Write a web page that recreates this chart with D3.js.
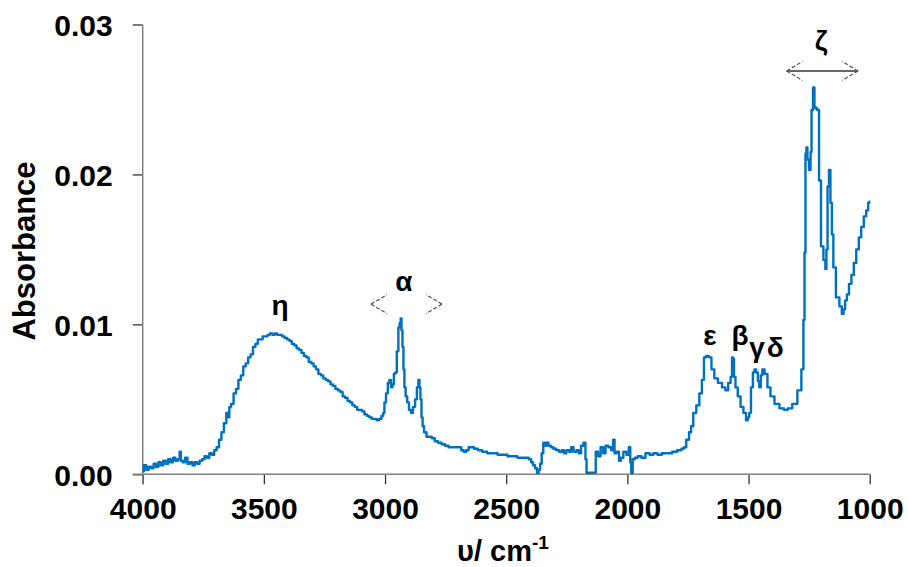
<!DOCTYPE html>
<html>
<head>
<meta charset="utf-8">
<script src="https://cdn.jsdelivr.net/npm/d3@7"></script>
<style>
  body { margin: 0; background: #fff; }
  text { font-family: "Liberation Sans", Arial, sans-serif; font-weight: bold; fill: #000; }
</style>
</head>
<body>
<div id="chart"></div>
<script>
var width = 908;
var height = 567;

// wavenumber (cm-1) and absorbance
var wavenumber = [4000, 3990, 3980, 3970, 3960, 3950, 3940, 3930, 3920, 3910, 3900, 3890, 3880, 3870, 3860, 3850, 3845, 3840, 3830, 3820, 3810, 3800, 3790, 3780, 3770, 3760, 3750, 3740, 3730, 3720, 3710, 3700, 3690, 3680, 3670, 3660, 3650, 3645, 3640, 3630, 3620, 3610, 3600, 3590, 3580, 3570, 3560, 3550, 3540, 3530, 3520, 3510, 3500, 3490, 3480, 3470, 3460, 3450, 3440, 3430, 3420, 3410, 3400, 3390, 3380, 3370, 3360, 3350, 3340, 3330, 3320, 3310, 3300, 3290, 3280, 3270, 3260, 3250, 3240, 3230, 3220, 3210, 3200, 3190, 3180, 3170, 3160, 3150, 3140, 3130, 3120, 3110, 3100, 3090, 3080, 3070, 3060, 3050, 3040, 3030, 3020, 3010, 3005, 3000, 2992, 2985, 2979, 2972, 2967, 2960, 2955, 2948, 2942, 2937, 2934, 2930, 2926, 2922, 2918, 2912, 2905, 2897, 2889, 2880, 2872, 2865, 2860, 2856, 2852, 2847, 2843, 2835, 2823, 2814, 2800, 2790, 2773, 2760, 2745, 2731, 2710, 2691, 2680, 2670, 2660, 2650, 2640, 2625, 2608, 2590, 2567, 2545, 2526, 2505, 2484, 2465, 2443, 2425, 2414, 2400, 2394, 2385, 2377, 2369, 2363, 2357, 2350, 2344, 2338, 2331, 2320, 2311, 2300, 2287, 2275, 2265, 2258, 2245, 2235, 2229, 2215, 2205, 2196, 2186, 2176, 2170, 2167, 2150, 2135, 2126, 2116, 2105, 2095, 2085, 2072, 2062, 2056, 2050, 2039, 2030, 2023, 2010, 1998, 1990, 1986, 1982, 1974, 1965, 1949, 1935, 1916, 1900, 1885, 1866, 1850, 1825, 1805, 1784, 1770, 1763, 1751, 1740, 1734, 1722, 1709, 1697, 1688, 1680, 1670, 1659, 1647, 1635, 1618, 1601, 1590, 1578, 1570, 1566, 1562, 1558, 1550, 1539, 1527, 1515, 1506, 1500, 1494, 1486, 1478, 1473, 1465, 1458, 1453, 1446, 1440, 1428, 1416, 1403, 1383, 1362, 1346, 1330, 1309, 1288, 1276, 1271, 1267, 1263, 1259, 1255, 1246, 1242, 1238, 1230, 1226, 1220, 1213, 1205, 1197, 1185, 1181, 1176, 1172, 1164, 1160, 1152, 1148, 1131, 1119, 1111, 1105, 1098, 1090, 1081, 1070, 1061, 1050, 1040, 1030, 1019, 1010, 1003, 1000];
var absorbance = [0.0002, 0.0006, 0.0003, 0.0005, 0.0004, 0.0007, 0.0005, 0.0008, 0.0006, 0.0009, 0.0007, 0.0010, 0.0008, 0.0011, 0.0009, 0.0010, 0.0015, 0.0009, 0.0008, 0.0011, 0.0007, 0.0008, 0.0006, 0.0008, 0.0007, 0.0009, 0.0010, 0.0012, 0.0011, 0.0014, 0.0013, 0.0016, 0.0018, 0.0023, 0.0028, 0.0034, 0.0041, 0.0038, 0.0045, 0.0047, 0.0054, 0.0057, 0.0063, 0.0066, 0.0072, 0.0074, 0.0078, 0.0080, 0.0085, 0.0087, 0.0090, 0.0090, 0.0092, 0.0092, 0.0093, 0.0094, 0.0093, 0.0094, 0.0093, 0.0093, 0.0092, 0.0091, 0.0090, 0.0089, 0.0087, 0.0086, 0.0084, 0.0083, 0.0081, 0.0079, 0.0078, 0.0075, 0.0074, 0.0072, 0.0070, 0.0067, 0.0066, 0.0064, 0.0063, 0.0062, 0.0060, 0.0059, 0.0057, 0.0056, 0.0055, 0.0052, 0.0051, 0.0049, 0.0048, 0.0046, 0.0045, 0.0043, 0.0043, 0.0042, 0.0040, 0.0039, 0.0038, 0.0037, 0.0037, 0.0036, 0.0037, 0.0039, 0.0041, 0.0048, 0.0054, 0.0061, 0.0063, 0.0058, 0.0060, 0.0067, 0.0068, 0.0082, 0.0098, 0.0101, 0.0104, 0.0096, 0.0085, 0.0070, 0.0058, 0.0052, 0.0048, 0.0043, 0.0041, 0.0045, 0.0050, 0.0058, 0.0063, 0.0058, 0.0050, 0.0038, 0.0032, 0.0028, 0.0025, 0.0025, 0.0024, 0.0022, 0.0021, 0.0020, 0.0019, 0.0018, 0.0018, 0.0018, 0.0016, 0.0015, 0.0016, 0.0018, 0.0018, 0.0017, 0.0016, 0.0015, 0.0014, 0.0014, 0.0013, 0.0013, 0.0012, 0.0012, 0.0011, 0.0011, 0.0011, 0.0010, 0.0008, 0.0006, 0.0004, 0.0001, 0.0003, 0.0007, 0.0014, 0.0021, 0.0019, 0.0021, 0.0019, 0.0018, 0.0017, 0.0016, 0.0015, 0.0016, 0.0014, 0.0016, 0.0015, 0.0018, 0.0015, 0.0016, 0.0014, 0.0019, 0.0021, 0.0010, 0.0001, 0.0001, 0.0001, 0.0015, 0.0012, 0.0018, 0.0014, 0.0019, 0.0018, 0.0016, 0.0023, 0.0014, 0.0015, 0.0009, 0.0011, 0.0015, 0.0013, 0.0018, 0.0008, 0.0001, 0.0010, 0.0011, 0.0012, 0.0011, 0.0014, 0.0013, 0.0014, 0.0013, 0.0014, 0.0014, 0.0015, 0.0016, 0.0017, 0.0018, 0.0023, 0.0028, 0.0032, 0.0041, 0.0046, 0.0054, 0.0063, 0.0078, 0.0079, 0.0078, 0.0070, 0.0064, 0.0061, 0.0058, 0.0056, 0.0061, 0.0065, 0.0078, 0.0077, 0.0065, 0.0058, 0.0052, 0.0045, 0.0041, 0.0036, 0.0038, 0.0041, 0.0058, 0.0068, 0.0070, 0.0068, 0.0062, 0.0058, 0.0066, 0.0070, 0.0067, 0.0058, 0.0052, 0.0047, 0.0044, 0.0043, 0.0044, 0.0047, 0.0056, 0.0070, 0.0103, 0.0148, 0.0214, 0.0218, 0.0210, 0.0203, 0.0215, 0.0243, 0.0258, 0.0245, 0.0244, 0.0243, 0.0196, 0.0152, 0.0143, 0.0137, 0.0150, 0.0192, 0.0203, 0.0181, 0.0160, 0.0138, 0.0118, 0.0112, 0.0107, 0.0110, 0.0116, 0.0120, 0.0127, 0.0133, 0.0141, 0.0150, 0.0158, 0.0165, 0.0172, 0.0176, 0.0181, 0.0182];

var xTicks = [4000, 3500, 3000, 2500, 2000, 1500, 1000];
var yTicks = [0, 0.01, 0.02, 0.03];

// band labels: text, wavenumber, absorbance of baseline
var bandText = ['η', 'α', 'ε', 'β', 'γ', 'δ', 'ζ'];
var bandX = [3433, 2922, 1659, 1535, 1465, 1390, 1200];
var bandY = [0.0106, 0.0122, 0.0086, 0.0086, 0.0078, 0.0078, 0.0283];

var margin = { left: 142.7, right: 869.7, top: 24.5, bottom: 474.3 };

var x = d3.scaleLinear().domain([4000, 1000]).range([margin.left, margin.right]);
var y = d3.scaleLinear().domain([0, 0.03]).range([margin.bottom, margin.top]);

var svg = d3.select('#chart')
  .append('svg')
  .attr('width', width)
  .attr('height', height);

// axes
var xAxis = svg.append('g')
  .attr('transform', 'translate(0,' + margin.bottom + ')')
  .call(d3.axisBottom(x).tickValues(xTicks).tickSize(10).tickSizeOuter(0).tickPadding(13)
    .tickFormat(d3.format('d')));
var yAxis = svg.append('g')
  .attr('transform', 'translate(' + margin.left + ',0)')
  .call(d3.axisLeft(y).tickValues(yTicks).tickSize(10).tickSizeOuter(0).tickPadding(20)
    .tickFormat(d3.format('.2f')));

[xAxis, yAxis].forEach(function(g) {
  g.select('.domain').remove();
  g.selectAll('.tick line').attr('stroke', '#333').attr('stroke-width', 1.3);
  g.selectAll('.tick text')
    .style('font-size', '30px')
    .style('font-family', '"Liberation Sans", Arial, sans-serif')
    .style('font-weight', 'bold')
    .attr('fill', '#000');
});
yAxis.selectAll('.tick text').attr('dy', '0.36em');

// axis lines, extended past the crossing like the original
svg.append('line')
  .attr('x1', margin.left - 10).attr('x2', margin.right)
  .attr('y1', margin.bottom).attr('y2', margin.bottom)
  .attr('stroke', '#808080').attr('stroke-width', 1.5);
svg.append('line')
  .attr('x1', margin.left).attr('x2', margin.left)
  .attr('y1', margin.top).attr('y2', margin.bottom + 10)
  .attr('stroke', '#808080').attr('stroke-width', 1.5);

// spectrum
var points = wavenumber.map(function(w, i) { return [w, absorbance[i]]; });
var line = d3.line()
  .curve(d3.curveStep)
  .x(function(d) { return x(d[0]); })
  .y(function(d) { return y(d[1]); });

svg.append('path')
  .datum(points)
  .attr('d', line)
  .attr('fill', 'none')
  .attr('stroke', '#0070C0')
  .attr('stroke-width', 2.4)
  .attr('stroke-linejoin', 'round');

// band labels
svg.selectAll('.band')
  .data(bandText)
  .enter()
  .append('text')
  .attr('class', 'band')
  .attr('x', function(d, i) { return x(bandX[i]); })
  .attr('y', function(d, i) { return y(bandY[i]); })
  .attr('text-anchor', 'middle')
  .style('font-size', '28px')
  .text(function(d) { return d; });

// range arrows
function chevron(tipW, a, dir) {
  var tx = x(tipW), ty = y(a);
  [-9.5, 9.5].forEach(function(dy) {
    svg.append('line')
      .attr('x1', tx).attr('y1', ty)
      .attr('x2', tx + dir * 16).attr('y2', ty + dy)
      .attr('stroke', '#555')
      .attr('stroke-width', 1.2)
      .attr('stroke-dasharray', '4,2');
  });
}
chevron(3058, 0.01135, 1);
chevron(2765, 0.01135, -1);

svg.append('line')
  .attr('x1', x(1343)).attr('x2', x(1048))
  .attr('y1', y(0.0269)).attr('y2', y(0.0269))
  .attr('stroke', '#333').attr('stroke-width', 1.5);
chevron(1343, 0.0269, 1);
chevron(1048, 0.0269, -1);

// axis titles
svg.append('text')
  .attr('transform', 'translate(35,251) rotate(-90)')
  .attr('text-anchor', 'middle')
  .style('font-size', '31px')
  .text('Absorbance');

var xt = svg.append('text')
  .attr('x', 503)
  .attr('y', 561)
  .attr('text-anchor', 'middle')
  .style('font-size', '29px');
xt.append('tspan').text('υ/ cm');
xt.append('tspan').attr('dy', -12).style('font-size', '19px').text('-1');
</script>
</body>
</html>
